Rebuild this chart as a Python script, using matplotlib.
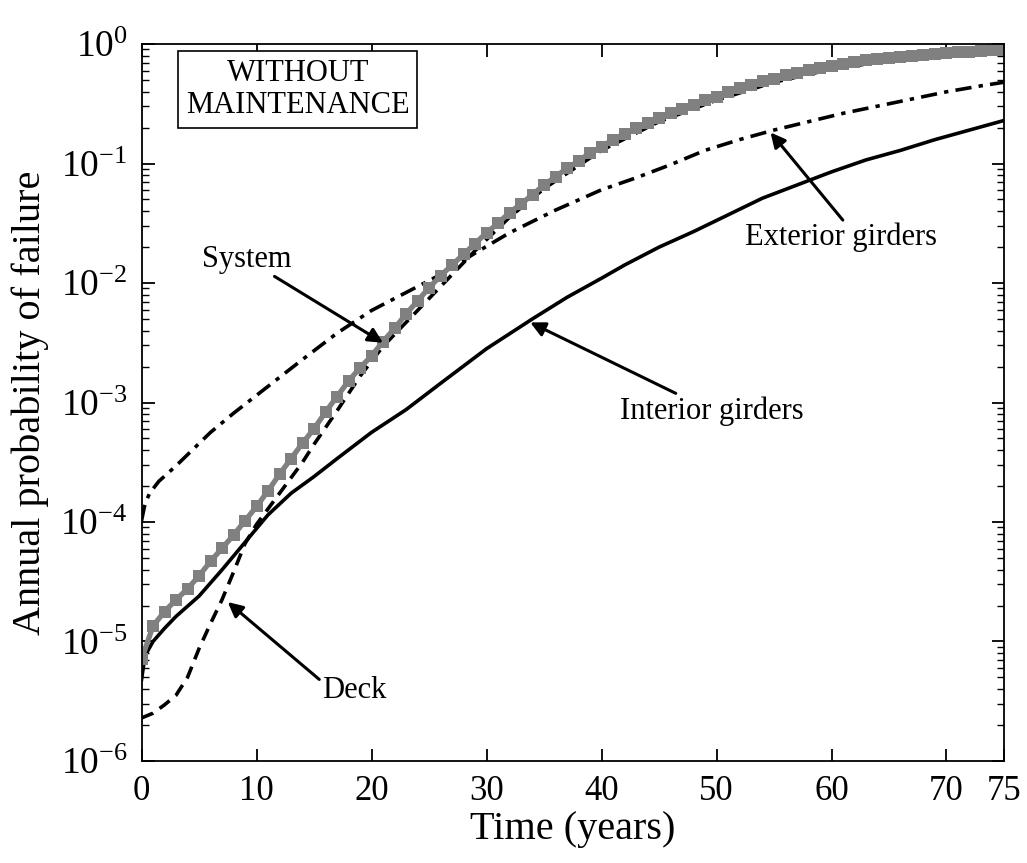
import numpy as np
import matplotlib
matplotlib.use("Agg")
import matplotlib.pyplot as plt
from matplotlib.ticker import FixedLocator, LogLocator, NullFormatter

plt.rcParams['font.family'] = ['Liberation Serif', 'DejaVu Serif']
plt.rcParams['mathtext.fontset'] = 'custom'
plt.rcParams['mathtext.rm'] = 'Liberation Serif'

# log10 of annual probability of failure
years = list(range(0, 76))
system_log = [-5.15, -4.87, -4.75, -4.65, -4.56, -4.45, -4.33, -4.22, -4.11, -3.99,
              -3.87, -3.74, -3.60, -3.47, -3.34, -3.22, -3.08, -2.95, -2.82, -2.71,
              -2.61, -2.49, -2.38, -2.26, -2.15, -2.04, -1.94, -1.85, -1.76, -1.67,
              -1.58, -1.50, -1.41, -1.34, -1.26, -1.18, -1.11, -1.04, -0.98, -0.91,
              -0.86, -0.80, -0.75, -0.70, -0.66, -0.62, -0.58, -0.54, -0.51, -0.47,
              -0.44, -0.40, -0.37, -0.34, -0.31, -0.29, -0.26, -0.24, -0.22, -0.20,
              -0.18, -0.165, -0.15, -0.135, -0.125, -0.115, -0.108, -0.10, -0.09, -0.082,
              -0.076, -0.07, -0.064, -0.058, -0.054, -0.05]

ext_t = [0, 0.3, 0.7, 1.5, 3, 4.5, 6, 8, 10, 12, 14, 17, 20, 23, 26, 29, 32, 36,
         40, 43, 46, 49, 52, 55, 58, 61, 64, 67, 70, 73, 75]
ext_log = [-3.99, -3.85, -3.76, -3.66, -3.53, -3.39, -3.25, -3.09, -2.94, -2.79,
           -2.64, -2.42, -2.23, -2.08, -1.93, -1.75, -1.58, -1.39,
           -1.22, -1.12, -1.01, -0.89, -0.80, -0.72, -0.65, -0.58, -0.52, -0.46,
           -0.40, -0.35, -0.32]

int_t = [0, 0.3, 1, 2, 3, 5, 7, 9, 11, 13, 15, 17, 20, 23, 26, 30, 34, 37, 40,
         42, 45, 48, 51, 54, 57, 60, 63, 66, 69, 72, 75]
int_log = [-5.32, -5.12, -5.00, -4.89, -4.79, -4.62, -4.40, -4.17, -3.94, -3.76,
           -3.62, -3.47, -3.25, -3.06, -2.84, -2.55, -2.30, -2.12, -1.96,
           -1.85, -1.70, -1.57, -1.43, -1.29, -1.18, -1.07, -0.97, -0.89, -0.80,
           -0.72, -0.64]

deck_t = [0, 1, 2, 3, 4, 5, 6, 7, 8, 9, 10, 11, 12, 13, 14, 15, 17, 19, 21, 23,
          26, 29, 32, 35, 40, 45, 50, 55, 60, 65, 70, 75]
deck_log = [-5.64, -5.60, -5.53, -5.45, -5.30, -5.06, -4.85, -4.65, -4.42, -4.18,
            -4.02, -3.89, -3.76, -3.63, -3.50, -3.35, -3.07, -2.78, -2.53, -2.33,
            -2.03, -1.73, -1.45, -1.21, -0.89, -0.65, -0.47, -0.32, -0.21, -0.14,
            -0.09, -0.06]

xticks = [0, 10, 20, 30, 40, 50, 60, 70, 75]
yticks = [1e-6, 1e-5, 1e-4, 1e-3, 1e-2, 1e-1, 1e0]
ytick_labels = [r'$\mathregular{10^{-6}}$', r'$\mathregular{10^{-5}}$',
                r'$\mathregular{10^{-4}}$', r'$\mathregular{10^{-3}}$',
                r'$\mathregular{10^{-2}}$', r'$\mathregular{10^{-1}}$',
                r'$\mathregular{10^{0}}$']

fig = plt.figure(figsize=(10.27, 8.63), dpi=100)
ax = fig.add_axes([0.1378, 0.1182, 0.8398, 0.8308])

ax.plot(deck_t, 10 ** np.array(deck_log), color='black', lw=2.6, ls=(0, (3.5, 2.2)))
ax.plot(int_t, 10 ** np.array(int_log), color='black', lw=2.6)
ax.plot(ext_t, 10 ** np.array(ext_log), color='black', lw=2.6,
        ls=(0, (4.5, 2.0, 1.2, 2.0)))
ax.plot(years, 10 ** np.array(system_log), color='#808080', lw=3.8,
        marker='s', markersize=8, markeredgewidth=0)

ax.set_yscale('log')
ax.set_xlim(0, 75)
ax.set_ylim(1e-6, 1)
ax.set_xticks(xticks)
ax.set_xticklabels([str(v) for v in xticks])
ax.yaxis.set_major_locator(FixedLocator(yticks))
ax.set_yticklabels(ytick_labels)
ax.yaxis.set_minor_locator(LogLocator(base=10, subs=np.arange(2, 10), numticks=20))
ax.yaxis.set_minor_formatter(NullFormatter())

ax.tick_params(which='both', direction='in', top=True, right=True)
ax.tick_params(which='major', length=9, width=1.3, labelsize=25, pad=10)
ax.tick_params(axis='y', which='major', labelsize=27)
ax.tick_params(which='minor', length=5, width=1.0)
for s in ax.spines.values():
    s.set_linewidth(1.3)

ax.set_xlabel('Time (years)', fontsize=29, labelpad=2)
ax.set_ylabel('Annual probability of failure', fontsize=29, labelpad=8)

ax.text(13.6, 10 ** -0.38, 'WITHOUT\nMAINTENANCE', fontsize=22, ha='center', va='center',
        linespacing=1.15,
        bbox=dict(boxstyle='square,pad=0.25', facecolor='white', edgecolor='black', lw=1.2))

arrow = dict(arrowstyle='-|>', color='black', lw=2.2, mutation_scale=22, shrinkA=0, shrinkB=0)
ax.annotate('System', xy=(21.0, 10 ** -2.50), xytext=(13.0, 10 ** -1.80),
            fontsize=22, ha='right', va='center', arrowprops=arrow)
ax.annotate('Interior girders', xy=(33.8, 10 ** -2.33), xytext=(41.6, 10 ** -3.07),
            fontsize=22, ha='left', va='center', arrowprops=arrow)
ax.annotate('Exterior girders', xy=(54.7, 10 ** -0.74), xytext=(52.5, 10 ** -1.62),
            fontsize=22, ha='left', va='center',
            arrowprops=dict(arrow, relpos=(0.52, 1.0)))
ax.annotate('Deck', xy=(7.5, 10 ** -4.67), xytext=(15.7, 10 ** -5.41),
            fontsize=22, ha='left', va='center',
            arrowprops=dict(arrow, relpos=(0.0, 0.8)))

fig.savefig('out.png', dpi=100)
